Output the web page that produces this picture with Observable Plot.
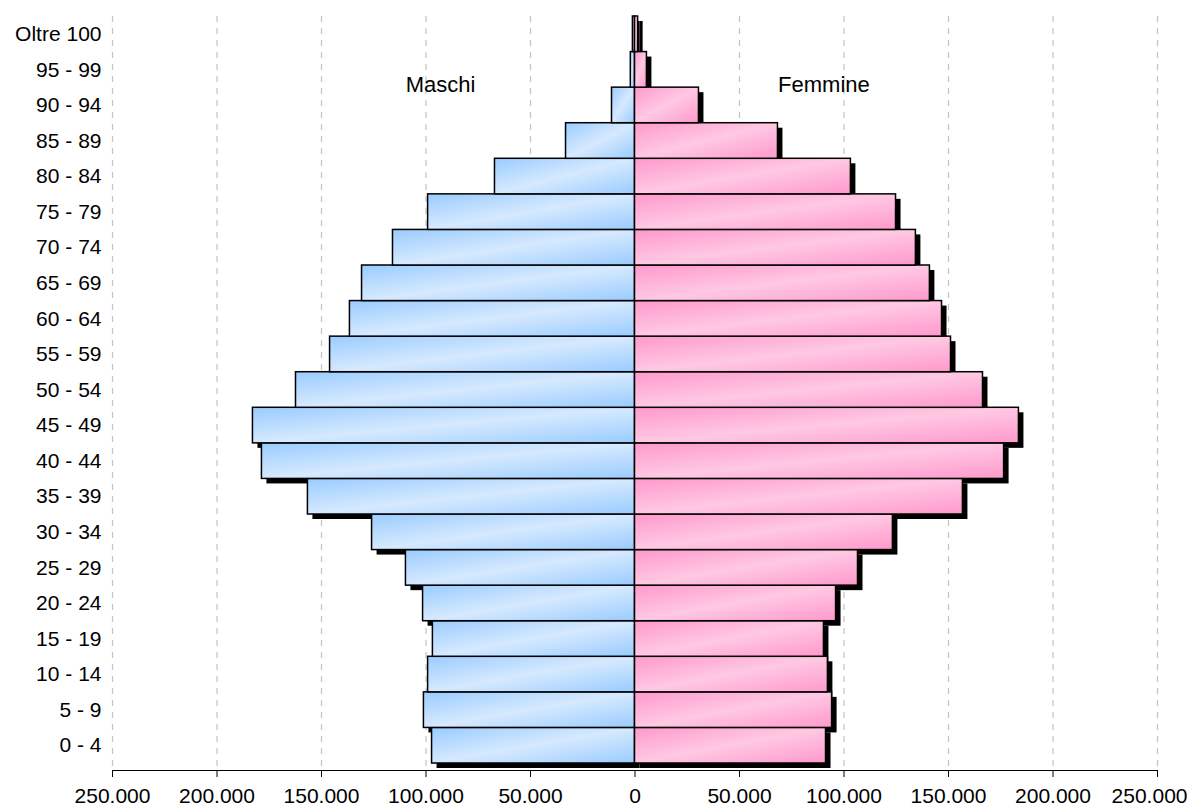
<!DOCTYPE html>
<html>
<head>
<meta charset="utf-8">
<script src="https://cdn.jsdelivr.net/npm/d3@7"></script>
<script src="https://cdn.jsdelivr.net/npm/@observablehq/plot@0.6"></script>
<style>
  body { margin: 0; background: #fff; }
  #chart svg { display: block; }
</style>
</head>
<body>
<div id="chart"></div>
<script>
const ageGroups = ["0 - 4", "5 - 9", "10 - 14", "15 - 19", "20 - 24", "25 - 29", "30 - 34",
  "35 - 39", "40 - 44", "45 - 49", "50 - 54", "55 - 59", "60 - 64", "65 - 69",
  "70 - 74", "75 - 79", "80 - 84", "85 - 89", "90 - 94", "95 - 99", "Oltre 100"];
const maschi = [97100, 101000, 99000, 96700, 101400, 109600, 125800,
  156500, 178500, 182800, 162200, 145900, 136400, 130600,
  115800, 99000, 67000, 33000, 11000, 2000, 1000];
const femmine = [91400, 94300, 92300, 90400, 96200, 106700, 123400,
  156900, 176600, 183700, 166500, 151200, 146900, 141100,
  134400, 124900, 103300, 68400, 30600, 5700, 1500];
const xTicks = [-250000, -200000, -150000, -100000, -50000, 0, 50000, 100000, 150000, 200000, 250000];
const seriesLabels = ["Maschi", "Femmine"];

const rows = ageGroups.flatMap((g, i) => [
  {age: g, sex: "M", x1: -maschi[i], x2: 0},
  {age: g, sex: "F", x1: 0, x2: femmine[i]}
]);
const fmt = d => d3.format(",")(Math.abs(d)).replace(/,/g, ".");
const font = "'Liberation Sans', Arial, Helvetica, sans-serif";

const chart = Plot.plot({
  width: 1191,
  height: 806,
  marginLeft: 112,
  marginRight: 34,
  marginTop: 16,
  marginBottom: 36,
  style: {fontFamily: font, fontSize: "21px", color: "#000", background: "#fff"},
  x: {domain: [-250000, 250000], ticks: xTicks, tickFormat: () => "", tickSize: 7, line: true, label: null},
  y: {domain: ageGroups.slice().reverse(), range: [16, 763], padding: 0, round: false, label: null, tickSize: 0, tickPadding: 11},
  marks: [
    Plot.ruleX(xTicks.filter(d => d !== 0), {stroke: "#c4c4c4", strokeWidth: 1.2, strokeDasharray: "6,6"}),
    Plot.text(xTicks.slice(0, -1), {x: d => d, text: fmt, frameAnchor: "bottom", lineAnchor: "top", dy: 18, fill: "#000"}),
    Plot.text(xTicks.slice(-1), {x: d => d, text: fmt, frameAnchor: "bottom", lineAnchor: "top", dy: 18, dx: 30, textAnchor: "end", fill: "#000"}),
    Plot.barX(rows, {x1: "x1", x2: "x2", y: "age", fill: "#000", dx: 5, dy: 5, inset: 0}),
    Plot.barX(rows, {x1: "x1", x2: "x2", y: "age", inset: 0,
      fill: d => d.sex === "M" ? "url(#gradM)" : "url(#gradF)",
      stroke: "#000", strokeWidth: 1.5}),
    Plot.text([seriesLabels[0]], {x: -93000, y: () => "95 - 99", dy: 15, text: d => d, fontSize: 22, fill: "#000"}),
    Plot.text([seriesLabels[1]], {x: 90400, y: () => "95 - 99", dy: 15, text: d => d, fontSize: 22, fill: "#000"})
  ]
});

const defs = d3.select(chart).insert("defs", ":first-child");
function grad(id, dark, light) {
  const g = defs.append("linearGradient").attr("id", id)
    .attr("x1", 0).attr("y1", 0).attr("x2", 1).attr("y2", 1);
  g.append("stop").attr("offset", "0%").attr("stop-color", dark);
  g.append("stop").attr("offset", "50%").attr("stop-color", light);
  g.append("stop").attr("offset", "100%").attr("stop-color", dark);
}
grad("gradM", "#99ccff", "#d6e9ff");
grad("gradF", "#ff99cc", "#ffc8e3");

document.getElementById("chart").appendChild(chart);
</script>
</body>
</html>
